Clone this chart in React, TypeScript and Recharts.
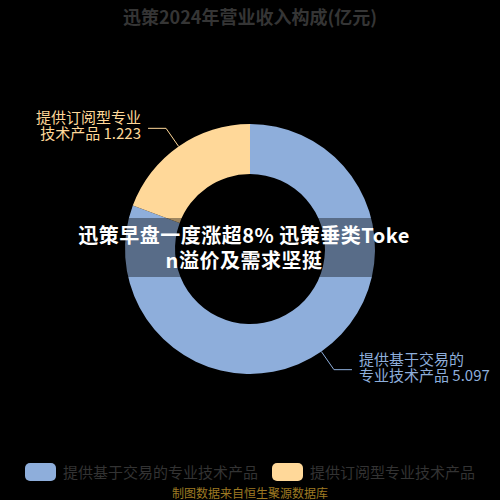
import { PieChart, Pie, Cell, Legend } from 'recharts';

const categories = ['提供基于交易的专业技术产品', '提供订阅型专业技术产品'];
const labelLines = [
  ['提供基于交易的', '专业技术产品'],
  ['提供订阅型专业', '技术产品'],
];
const values = [5.097, 1.223];
const colors = ['#8EAEDB', '#FFD899'];

const chartTitle = '迅策2024年营业收入构成(亿元)';
const headline = ['迅策早盘一度涨超8% 迅策垂类Toke', 'n溢价及需求坚挺'];
const sourceNote = '制图数据来自恒生聚源数据库';

const FONT = '"Noto Sans CJK SC", "Noto Sans", sans-serif';
const RAD = Math.PI / 180;

const data = categories.map((name, i) => ({ name, value: values[i], lines: labelLines[i] }));

function renderLabel(props: any) {
  const { cx, cy, midAngle, outerRadius, index, payload } = props;
  const cos = Math.cos(-midAngle * RAD);
  const sin = Math.sin(-midAngle * RAD);
  const sx = cx + outerRadius * cos;
  const sy = cy + outerRadius * sin;
  const mx = cx + (outerRadius + 22) * cos;
  const my = cy + (outerRadius + 22) * sin;
  const right = cos >= 0;
  const ex = mx + (right ? 18 : -18);
  const tx = ex + (right ? 7 : -7);
  const color = colors[index];
  const lines = payload.lines ?? labelLines[index];
  return (
    <g>
      <polyline
        points={`${sx},${sy} ${mx},${my} ${ex},${my}`}
        fill="none"
        stroke={color}
        strokeWidth={1}
      />
      <text
        x={tx}
        y={my}
        fill={color}
        fontSize={15}
        fontFamily={FONT}
        textAnchor={right ? 'start' : 'end'}
      >
        <tspan x={tx} dy={-5}>{lines[0]}</tspan>
        <tspan x={tx} dy={16}>{`${lines[1]} ${values[index]}`}</tspan>
      </text>
    </g>
  );
}

function renderLegend() {
  return (
    <div style={{ display: 'flex', justifyContent: 'center', gap: 14, fontFamily: FONT }}>
      {categories.map((c, i) => (
        <div key={c} style={{ display: 'flex', alignItems: 'center' }}>
          <span
            style={{
              display: 'inline-block',
              width: 31,
              height: 18,
              borderRadius: 5,
              background: colors[i],
              marginRight: 7,
            }}
          />
          <span style={{ color: '#333333', fontSize: 15 }}>{c}</span>
        </div>
      ))}
    </div>
  );
}

export default function App() {
  return (
    <div
      style={{
        position: 'absolute',
        left: 0,
        top: 0,
        width: 500,
        height: 500,
        background: '#000',
        overflow: 'hidden',
        fontFamily: FONT,
      }}
    >
      <div
        style={{
          position: 'absolute',
          top: 3,
          width: 500,
          textAlign: 'center',
          color: '#353535',
          fontSize: 18,
          fontWeight: 'bold',
        }}
      >
        {chartTitle}
      </div>
      <PieChart width={500} height={500} margin={{ top: 0, right: 0, bottom: 0, left: 0 }}>
        <Pie
          data={data}
          dataKey="value"
          nameKey="name"
          cx={250}
          cy={249}
          innerRadius={75}
          outerRadius={125}
          startAngle={90}
          endAngle={-270}
          stroke="none"
          label={renderLabel}
          labelLine={false}
          isAnimationActive={false}
        >
          {data.map((d, i) => (
            <Cell key={d.name} fill={colors[i]} />
          ))}
        </Pie>
        <Legend content={renderLegend} wrapperStyle={{ top: 461, left: 0, width: 500 }} />
      </PieChart>
      <div
        style={{
          position: 'absolute',
          left: 0,
          top: 218,
          width: 500,
          height: 59,
          background: 'rgba(0,0,0,0.38)',
        }}
      />
      <div
        style={{
          position: 'absolute',
          left: 0,
          top: 222,
          width: 488,
          textAlign: 'center',
          color: '#fff',
          fontSize: 20,
          fontWeight: 'bold',
          lineHeight: '25px',
          letterSpacing: 0.5,
        }}
      >
        {headline[0]}
        <br />
        {headline[1]}
      </div>
      <div
        style={{
          position: 'absolute',
          top: 484,
          width: 500,
          textAlign: 'center',
          color: '#9E7A22',
          fontSize: 12,
        }}
      >
        {sourceNote}
      </div>
    </div>
  );
}
